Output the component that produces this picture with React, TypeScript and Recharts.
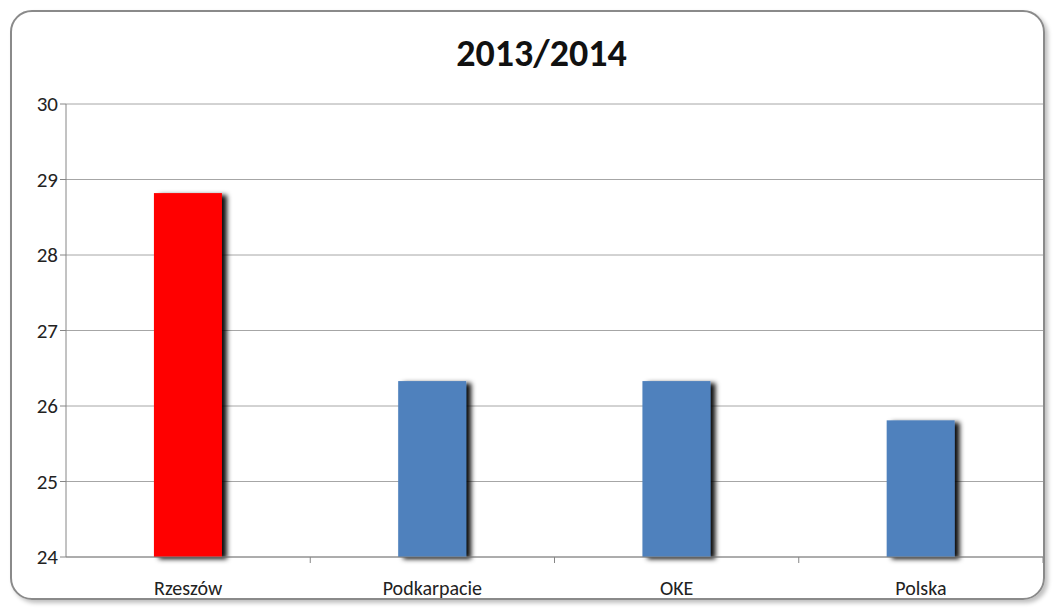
import { BarChart, Bar, Cell, XAxis, YAxis, CartesianGrid } from "recharts";

const categories = ["Rzeszów", "Podkarpacie", "OKE", "Polska"];
const values = [28.82, 26.33, 26.33, 25.81];
const barColors = ["#ff0000", "#4f81bd", "#4f81bd", "#4f81bd"];
const yTicks = [24, 25, 26, 27, 28, 29, 30];

const data = categories.map((name, i) => ({ name, value: values[i] }));

const W = 1055;
const H = 608;
const LEFT = 66;
const RIGHT = 12;
const STEP = (W - LEFT - RIGHT) / categories.length;

const font = "Carlito, Lato, 'Open Sans', sans-serif";

function ShadowBar(props: any) {
  const { x, y, width, height, fill } = props;
  return (
    <rect x={x} y={y} width={width} height={height} fill={fill} filter="url(#barShadow)" />
  );
}

function CatTick(props: any) {
  const { x, y, payload } = props;
  return (
    <g>
      <line x1={x + STEP / 2} x2={x + STEP / 2} y1={y - 8} y2={y - 2} stroke="#868686" />
      <text x={x} y={y + 30} textAnchor="middle" fontSize={20} fill="#222" fontFamily={font}>
        {payload.value}
      </text>
    </g>
  );
}

export default function App() {
  return (
    <div style={{ position: "absolute", left: 0, top: 0, width: W, height: H, background: "#fff" }}>
      <div
        style={{
          position: "absolute",
          left: 10,
          top: 10,
          width: W - 24,
          height: H - 22,
          border: "2px solid #8a8a8a",
          borderRadius: 22,
          boxShadow: "3px 3px 4px rgba(0,0,0,0.25)",
        }}
      />
      <div
        style={{
          position: "absolute",
          left: 14,
          top: 30,
          width: W,
          textAlign: "center",
          fontFamily: font,
          fontWeight: 700,
          fontSize: 38,
          color: "#111",
        }}
      >
        2013/2014
      </div>
      <div style={{ position: "absolute", left: 0, top: 0 }}>
        <BarChart
          width={W}
          height={H}
          data={data}
          margin={{ top: 104, right: RIGHT, bottom: 21, left: 0 }}
          barCategoryGap="36%"
        >
          <defs>
            <filter id="barShadow" x="-20%" y="-10%" width="150%" height="120%">
              <feDropShadow dx="5" dy="2" stdDeviation="2.5" floodColor="#000" floodOpacity="0.95" />
            </filter>
          </defs>
          <CartesianGrid vertical={false} stroke="#a6a6a6" />
          <XAxis
            dataKey="name"
            stroke="#868686"
            tickLine={false}
            tick={<CatTick />}
            interval={0}
          />
          <YAxis
            width={LEFT}
            domain={[24, 30]}
            ticks={yTicks}
            stroke="#868686"
            tickSize={6}
            tick={{ fontSize: 21, fill: "#222", fontFamily: font }}
          />
          <Bar dataKey="value" shape={<ShadowBar />} isAnimationActive={false}>
            {data.map((d, i) => (
              <Cell key={d.name} fill={barColors[i]} />
            ))}
          </Bar>
        </BarChart>
      </div>
    </div>
  );
}
